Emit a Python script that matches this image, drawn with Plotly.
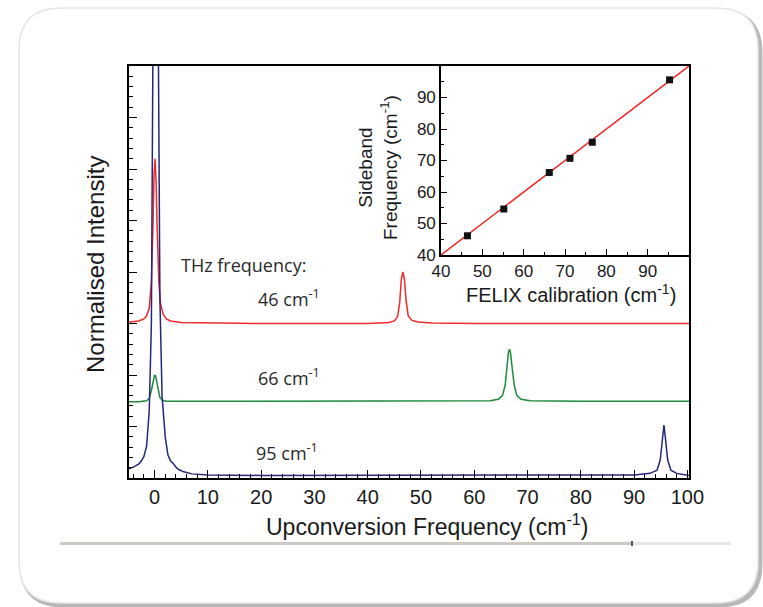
import plotly.graph_objects as go

# ---------------- data ----------------
red_x = [-4.8, -3, -2, -1.5, -1, -0.6, -0.3, -0.1, 0.1, 0.3, 0.5, 0.8, 1.1, 1.6, 2.2, 3, 5, 10, 20, 30, 40,
         44, 45, 45.6, 46.0, 46.3, 46.6, 46.9, 47.2, 47.6, 48.3, 49.5, 52, 60, 80, 100.3]
red_y = [3.03, 3.05, 3.09, 3.15, 3.3, 3.8, 4.9, 5.9, 6.2, 5.7, 4.8, 3.8, 3.4, 3.18, 3.09, 3.05, 3.02, 3.01, 3.0, 3.0, 3.0,
         3.02, 3.05, 3.13, 3.4, 3.85, 4.0, 3.85, 3.45, 3.15, 3.06, 3.03, 3.01, 3.0, 3.0, 3.0]

green_x = [-4.8, -3, -1.5, -1.0, -0.6, -0.3, 0.0, 0.2, 0.4, 0.7, 1.0, 1.5, 2.2, 10, 30, 50, 60, 63, 64.5, 65.3, 65.8,
           66.1, 66.4, 66.6, 66.8, 67.1, 67.5, 68.0, 68.8, 70.5, 80, 100.3]
green_y = [1.48, 1.48, 1.5, 1.55, 1.7, 1.88, 2.0, 1.98, 1.88, 1.7, 1.56, 1.51, 1.49, 1.49, 1.49, 1.49, 1.49, 1.5, 1.53, 1.6, 1.8,
           2.15, 2.43, 2.5, 2.43, 2.15, 1.8, 1.6, 1.53, 1.5, 1.49, 1.49]

blue_x = [-4.8, -4.0, -3.0, -2.5, -2.0, -1.5, -1.0, -0.6, -0.3, 0.2, 0.7, 1.0, 1.4, 2.0, 2.5, 3.0, 3.5, 4.1, 4.6,
          5.5, 7, 10, 20, 40, 60, 80, 90, 93, 94.3, 94.9, 95.3, 95.6, 95.9, 96.3, 96.9, 98, 100.3]
blue_y = [0.18, 0.21, 0.27, 0.33, 0.42, 0.62, 1.3, 3.0, 8.5, 14.0, 8.5, 3.5, 1.6, 0.8, 0.45, 0.33, 0.28, 0.2, 0.16,
          0.12, 0.08, 0.06, 0.05, 0.05, 0.05, 0.05, 0.06, 0.09, 0.15, 0.35, 0.75, 1.03, 0.75, 0.35, 0.15, 0.09, 0.05]

felix_x = [46.4, 55.2, 66.2, 71.2, 76.6, 95.3]
sideband_y = [46.1, 54.6, 66.2, 70.7, 75.8, 95.6]
fit_x = [40, 100]
fit_y = [40, 100]

x_ticks = [0, 10, 20, 30, 40, 50, 60, 70, 80, 90, 100]
inset_ticks = [40, 50, 60, 70, 80, 90]

labels = ["46 cm<sup>-1</sup>", "66 cm<sup>-1</sup>", "95 cm<sup>-1</sup>"]
label_x = [25.3, 25.3, 24.8]
label_y = [3.5, 1.97, 0.5]

# ---------------- geometry helpers ----------------
W, H = 763, 607
ML, MR, MT, MB = 129, 74, 66, 129
PW = W - ML - MR
PH = H - MT - MB


def px(x):
    return (x - ML) / PW


def py(y):
    return (H - MB - y) / PH


def rrect(x0, y0, x1, y1, r):
    pts = [
        ("M", [(x0 + r, y0)]), ("L", [(x1 - r, y0)]), ("Q", [(x1, y0), (x1, y0 + r)]),
        ("L", [(x1, y1 - r)]), ("Q", [(x1, y1), (x1 - r, y1)]), ("L", [(x0 + r, y1)]),
        ("Q", [(x0, y1), (x0, y1 - r)]), ("L", [(x0, y0 + r)]), ("Q", [(x0, y0), (x0 + r, y0)]),
    ]
    s = ""
    for cmd, ps in pts:
        s += cmd + " " + " ".join(f"{px(a):.5f},{py(b):.5f}" for a, b in ps) + " "
    return s + "Z"


fig = go.Figure()

fig.add_trace(go.Scatter(x=red_x, y=red_y, mode="lines", line=dict(color="#ee2a2a", width=1.5),
                         showlegend=False, hoverinfo="skip"))
fig.add_trace(go.Scatter(x=green_x, y=green_y, mode="lines", line=dict(color="#1e8a3c", width=1.5),
                         showlegend=False, hoverinfo="skip"))
fig.add_trace(go.Scatter(x=blue_x, y=blue_y, mode="lines", line=dict(color="#26267a", width=1.5),
                         showlegend=False, hoverinfo="skip"))

fig.add_trace(go.Scatter(x=fit_x, y=fit_y, mode="lines", line=dict(color="#ee2a2a", width=1.5),
                         xaxis="x2", yaxis="y2", showlegend=False, hoverinfo="skip"))
fig.add_trace(go.Scatter(x=felix_x, y=sideband_y, mode="markers",
                         marker=dict(symbol="square", size=7, color="#111111"),
                         xaxis="x2", yaxis="y2", showlegend=False, hoverinfo="skip"))

SANS = "Liberation Sans, Arial, sans-serif"
tickfont = dict(family=SANS, size=20, color="#1a1a1a")
inset_font = dict(family=SANS, size=17, color="#1a1a1a")

fig.update_layout(
    width=W, height=H,
    margin=dict(l=ML, r=MR, t=MT, b=MB),
    paper_bgcolor="white", plot_bgcolor="rgba(0,0,0,0)",
    xaxis=dict(domain=[0, 1], range=[-4.8, 100.3], tickvals=x_ticks, ticks="inside", ticklen=8,
               tickwidth=1.3, tickcolor="black", showline=True, linecolor="black", linewidth=1.6,
               mirror=True, showgrid=False, zeroline=False, tickfont=tickfont,
               minor=dict(dtick=2, ticks="inside", ticklen=4, tickcolor="black", tickwidth=1.2)),
    yaxis=dict(domain=[0, 1], range=[0, 8], dtick=1, ticks="inside", ticklen=8, tickwidth=1.3,
               tickcolor="black", showticklabels=False, showline=True, linecolor="black",
               linewidth=1.6, mirror=True, showgrid=False, zeroline=False,
               minor=dict(dtick=0.2, ticks="inside", ticklen=4, tickcolor="black", tickwidth=1.2)),
    xaxis2=dict(domain=[px(441), 1], anchor="y2", range=[40, 100], tickvals=inset_ticks,
                ticks="inside", ticklen=6, tickwidth=1.2, tickcolor="black", showline=True,
                linecolor="black", linewidth=1.6, mirror=True, showgrid=False, zeroline=False,
                tickfont=inset_font,
                minor=dict(dtick=5, ticks="inside", ticklen=3, tickcolor="black", tickwidth=1.0)),
    yaxis2=dict(domain=[py(255), 1], anchor="x2", range=[40, 100], tickvals=inset_ticks,
                ticks="inside", ticklen=6, tickwidth=1.2, tickcolor="black", showline=True,
                linecolor="black", linewidth=1.6, mirror=True, showgrid=False, zeroline=False,
                tickfont=inset_font,
                minor=dict(dtick=5, ticks="inside", ticklen=3, tickcolor="black", tickwidth=1.0)),
)

# panel background (rounded slide box with soft shadow)
shapes = [
    dict(type="path", path=rrect(21, 11, 761, 606, 42), xref="paper", yref="paper",
         line=dict(color="#b8b8b8", width=3), fillcolor="#b8b8b8", layer="below"),
    dict(type="path", path=rrect(19, 8, 758, 603, 42), xref="paper", yref="paper",
         line=dict(color="#e6e6e6", width=1.5), fillcolor="white", layer="below"),
    dict(type="rect", x0=px(60), x1=px(632), y0=py(545), y1=py(542), xref="paper", yref="paper",
         line=dict(width=0), fillcolor="#cdcac3", layer="below"),
    dict(type="rect", x0=px(632), x1=px(731), y0=py(545), y1=py(542), xref="paper", yref="paper",
         line=dict(width=0), fillcolor="#e8e6e2", layer="below"),
    dict(type="rect", x0=px(631), x1=px(633), y0=py(546), y1=py(541), xref="paper", yref="paper",
         line=dict(width=0), fillcolor="#555555", layer="below"),
]
fig.update_layout(shapes=shapes)

ann_font = dict(family="Open Sans, Noto Sans, sans-serif", size=18, color="#2a2a2a")
annotations = [
    dict(x=4.6, y=4.14, xref="x", yref="y", text="THz frequency:", showarrow=False,
         xanchor="left", yanchor="middle", font=ann_font),
]
for t, lx, ly in zip(labels, label_x, label_y):
    annotations.append(dict(x=lx, y=ly, xref="x", yref="y", text=t, showarrow=False,
                            xanchor="center", yanchor="middle", font=ann_font))

annotations += [
    dict(x=px(427), y=py(525), xref="paper", yref="paper",
         text="Upconversion Frequency (cm<sup>-1</sup>)", showarrow=False,
         xanchor="center", yanchor="middle",
         font=dict(family=SANS, size=23, color="#1a1a1a")),
    dict(x=px(95), y=py(265), xref="paper", yref="paper", text="Normalised Intensity",
         textangle=-90, showarrow=False, xanchor="center", yanchor="middle",
         font=dict(family=SANS, size=24, color="#1a1a1a")),
    dict(x=px(571), y=py(293), xref="paper", yref="paper",
         text="FELIX calibration (cm<sup>-1</sup>)", showarrow=False,
         xanchor="center", yanchor="middle",
         font=dict(family=SANS, size=20, color="#1a1a1a")),
    dict(x=px(378), y=py(168), xref="paper", yref="paper",
         text="Sideband<br>Frequency (cm<sup>-1</sup>)", textangle=-90, showarrow=False,
         xanchor="center", yanchor="middle",
         font=dict(family=SANS, size=19, color="#1a1a1a")),
]
fig.update_layout(annotations=annotations)

fig.write_html("out.html")
